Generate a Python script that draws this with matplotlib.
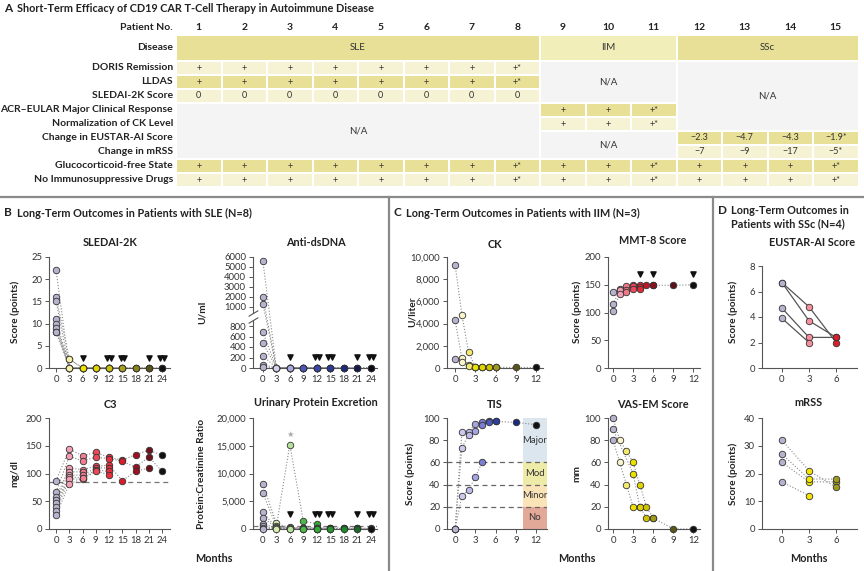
import numpy as np
import matplotlib
matplotlib.use("Agg")
import matplotlib.pyplot as plt
from matplotlib.patches import Rectangle
from collections import Counter

plt.rcParams['font.family'] = ['Lato', 'DejaVu Sans']

n = np.nan

# ---------------- table data (panel A) ----------------
patient_no = [str(i) for i in range(1, 16)]
row_labels = ["Disease", "DORIS Remission", "LLDAS", "SLEDAI-2K Score",
              "ACR\u2013EULAR Major Clinical Response", "Normalization of CK Level",
              "Change in EUSTAR-AI Score", "Change in mRSS",
              "Glucocorticoid-free State", "No Immunosuppressive Drugs"]
diseases = [("SLE", 0, 8), ("IIM", 8, 11), ("SSc", 11, 15)]
doris = ["+"] * 7 + ["+*"]
lldas = ["+"] * 7 + ["+*"]
sledai_score = ["0"] * 8
acr_eular = ["+", "+", "+*"]
ck_normal = ["+", "+", "+*"]
eustar_change = ["\u22122.3", "\u22124.7", "\u22124.3", "\u22121.9*"]
mrss_change = ["\u22127", "\u22129", "\u221217", "\u22125*"]
gc_free = ["+"] * 7 + ["+*"] + ["+", "+", "+*"] + ["+", "+", "+", "+*"]
no_is = ["+"] * 7 + ["+*"] + ["+", "+", "+*"] + ["+", "+", "+", "+*"]

# ---------------- panel B (SLE) ----------------
sle_months = [0, 3, 6, 9, 12, 15, 18, 21, 24]
sle_end = [6, 12, 12, 15, 15, 21, 24, 24]
sledai = [
    [22, 0, 0, 0, 0, 0, 0, 0, 0],
    [16, 2, 0, 0, 0, n, n, n, n],
    [15, 0, 0, 0, 0, 0, n, n, n],
    [11, 0, 0, n, n, n, n, n, n],
    [10, 0, 0, 0, 0, 0, 0, 0, 0],
    [9, 0, 0, 0, 0, 0, 0, 0, n],
    [8, 2, 0, 0, 0, 0, n, n, n],
    [8, 0, 0, 0, 0, n, n, n, n],
]
dsdna = [
    [5600, 5, 5, 5, 5, 5, 5, 5, 5],
    [2000, 5, 5, 5, 5, n, n, n, n],
    [1300, 5, 5, 5, 5, 5, n, n, n],
    [680, 5, 5, n, n, n, n, n, n],
    [470, 5, 5, 5, 5, 5, 5, 5, 5],
    [230, 5, 5, 5, 5, 5, 5, 5, n],
    [60, 5, 5, 5, 5, 5, n, n, n],
    [20, 5, 5, 5, 5, n, n, n, n],
]
c3 = [
    [87, 144, 132, 138, 129, 124, 134, 142, 133],
    [67, 131, 123, 129, 127, 122, 111, 130, 104],
    [57, 110, 107, 113, 115, 87, 104, 110, n],
    [52, 103, 103, n, n, n, n, n, n],
    [46, 97, 97, 110, 110, n, n, n, n],
    [40, 94, 92, 106, 104, n, n, n, n],
    [33, 90, 90, 104, 98, n, n, n, n],
    [25, 81, 91, n, n, n, n, n, n],
]
upcr = [
    [8060, 1000, 200, 200, 200, 200, 200, 150, 100],
    [6450, 480, 15200, 1400, 950, n, n, n, n],
    [3040, 200, 200, 200, 150, 150, n, n, n],
    [1970, 300, 300, n, n, n, n, n, n],
    [900, 200, 150, 150, 100, 100, 100, 100, 80],
    [480, 150, 100, 100, 80, 80, 80, 80, n],
    [180, 100, 80, 80, 80, 80, n, n, n],
    [20, 50, 50, 50, 50, n, n, n, n],
]
c3_normal = 85
upcr_normal = 500
upcr_flag = (6, 15200)

# ---------------- panel C (IIM) ----------------
iim_months = [0, 1, 2, 3, 4, 5, 6, 9, 12]
iim_end = [4, 6, 12]
ck = [
    [9300, 4800, 1400, 100, 50, 50, 50, 50, 50],
    [4300, 900, 300, 80, 50, 50, 50, n, n],
    [800, 500, 200, 50, 50, n, n, n, n],
]
mmt8 = [
    [137, 143, 147, 150, 150, 150, 149, 149, 150],
    [115, 140, 141, 147, 146, n, 149, n, n],
    [103, 133, 137, 143, 142, n, n, n, n],
]
tis = [
    [0, 87, 87, 95, 96, 97, 97, 96, 94],
    [0, 73, 85, 88, 94, 96, 97, n, n],
    [0, 30, 35, 47, 60, n, n, n, n],
]
vas_em = [
    [100, 80, 70, 60, 40, 20, 10, 0, 0],
    [90, n, n, 50, 20, 10, 10, n, n],
    [80, 60, 40, 20, 20, n, n, n, n],
]
tis_bands = [(0, 20, "No"), (20, 40, "Minor"), (40, 60, "Mod"), (60, 100, "Major")]

# ---------------- panel D (SSc) ----------------
ssc_months = [0, 3, 6]
eustar = [
    [4.7, 2.4, 2.4],
    [6.7, 4.8, 2.0],
    [6.7, 3.7, 2.4],
    [3.9, 2.0, n],
]
mrss = [
    [24, 17, 17],
    [27, 18, 18],
    [32, 21, 15],
    [17, 12, n],
]

# ---------------- colours ----------------
LAV = '#B7B2CE'
yellow_seq = [LAV, '#F6F1A6', '#EEE200', '#E0D400', '#C8BE14', '#ABA21C', '#8A831E', '#5A5418', '#111111']
blue_seq = [LAV, '#D2D2EE', '#A8AADC', '#4C57B8', '#3A46A8', '#2C3898', '#1E2A7A', '#141A4A', '#0A0A14']
red_seq = [LAV, '#F4A0B4', '#F27C90', '#EE4858', '#E8303E', '#D81E2A', '#A01020', '#70101A', '#111111']
green_seq = [LAV, '#D6EDB0', '#B5E29A', '#4CB848', '#36A83A', '#24982E', '#1A8A2A', '#1A6A2A', '#111111']
ck_seq = [LAV, '#F8F4C8', '#F2EA70', '#ECE000', '#E0D400', '#CFC300', '#A09A1A', '#5A5618', '#111111']
mmt_seq = [LAV, '#F4A0B4', '#F07888', '#EC4858', '#E02A36', '#C01828', '#8A1020', '#5A1018', '#111111']
tis_seq = [LAV, '#CDC9EE', '#BDBBEA', '#A4A4E0', '#7C7ED0', '#4A58B8', '#2E3E9E', '#1C2A7C', '#111111']
eustar_seq = [LAV, '#F4909E', '#D8202C']
mrss_seq = [LAV, '#F2E600', '#A09A20']
band_colors = {"No": '#E2A898', "Minor": '#FBE3B8', "Mod": '#EEEAA8', "Major": '#DCE6EE'}

DARK = '#E8E096'
LIGHT = '#F6F3D4'
IIMC = '#F2EEB9'
NA = '#F4F4F4'
TXT = '#333333'

W, H = 864, 571
fig = plt.figure(figsize=(W / 100, H / 100), dpi=100)


def ftext(x, y, s, **kw):
    kw.setdefault('va', 'center')
    kw.setdefault('color', '#222222')
    return fig.text(x / W, 1 - y / H, s, **kw)


def px_axes(x0, y0, x1, y1):
    return fig.add_axes([x0 / W, 1 - y1 / H, (x1 - x0) / W, (y1 - y0) / H])


# ---------------- panel A: the table ----------------
tab = fig.add_axes([0, 0, 1, 1])
tab.set_xlim(0, W)
tab.set_ylim(H, 0)
tab.axis('off')

col_x0 = 176
col_w = 45.5
row_top = [36] + [62 + 14 * i for i in range(9)]
row_h = [24] + [12] * 9


def cell(c0, c1, r0, r1, color, text=None, fs=6.5):
    x0 = col_x0 + c0 * col_w + 1
    x1 = col_x0 + c1 * col_w - 1
    y0 = row_top[r0]
    y1 = row_top[r1 - 1] + row_h[r1 - 1]
    tab.add_patch(Rectangle((x0, y0), x1 - x0, y1 - y0, facecolor=color, edgecolor='none'))
    if text is not None:
        tab.text((x0 + x1) / 2, (y0 + y1) / 2, text, ha='center', va='center', fontsize=fs, color=TXT)


ftext(4, 9, "A", fontsize=8.5, fontweight='bold')
ftext(17, 9, "Short-Term Efficacy of CD19 CAR T-Cell Therapy in Autoimmune Disease",
      fontsize=7.8, fontweight='bold')
ftext(173, 27, "Patient No.", ha='right', fontsize=7.5, fontweight='bold')
for i, p in enumerate(patient_no):
    ftext(col_x0 + (i + 0.5) * col_w, 27, p, ha='center', fontsize=7.5, fontweight='bold')
for r, lab in enumerate(row_labels):
    ftext(173, row_top[r] + row_h[r] / 2, lab, ha='right', fontsize=7.5, fontweight='bold')

for name, c0, c1 in diseases:
    cell(c0, c1, 0, 1, IIMC if name == "IIM" else DARK, name, fs=7)

row_vals = [(1, doris, 0, LIGHT), (2, lldas, 0, DARK), (3, sledai_score, 0, LIGHT),
            (4, acr_eular, 8, DARK), (5, ck_normal, 8, LIGHT),
            (6, eustar_change, 11, DARK), (7, mrss_change, 11, LIGHT),
            (8, gc_free, 0, DARK), (9, no_is, 0, LIGHT)]
for r, vals, start, color in row_vals:
    for k, v in enumerate(vals):
        cell(start + k, start + k + 1, r, r + 1, color, v)

cell(8, 11, 1, 4, NA, "N/A", fs=7)
cell(11, 15, 1, 6, NA, "N/A", fs=7)
cell(0, 8, 4, 8, NA, "N/A", fs=7)
cell(8, 11, 6, 8, NA, "N/A", fs=7)

# separators
tab.plot([0, W], [197, 197], color='#8a8a8a', lw=1.6)
tab.plot([389, 389], [197, H], color='#8a8a8a', lw=1.6)
tab.plot([713, 713], [197, H], color='#8a8a8a', lw=1.6)

# panel headers
ftext(4, 213, "B", fontsize=8.5, fontweight='bold')
ftext(17, 213, "Long-Term Outcomes in Patients with SLE (N=8)", fontsize=7.8, fontweight='bold')
ftext(393, 213, "C", fontsize=8.5, fontweight='bold')
ftext(406, 213, "Long-Term Outcomes in Patients with IIM (N=3)", fontsize=7.8, fontweight='bold')
ftext(718, 210, "D", fontsize=8.5, fontweight='bold')
ftext(731, 210, "Long-Term Outcomes in", fontsize=7.8, fontweight='bold')
ftext(731, 224, "Patients with SSc (N=4)", fontsize=7.8, fontweight='bold')

ftext(214, 558, "Months", ha='center', fontsize=7.8, fontweight='bold')
ftext(577, 558, "Months", ha='center', fontsize=7.8, fontweight='bold')
ftext(809, 558, "Months", ha='center', fontsize=7.8, fontweight='bold')


def style(ax, xlim, ylim, xticks, yticks, yticklabels=None):
    ax.set_xlim(xlim)
    ax.set_ylim(ylim)
    ax.set_facecolor('none')
    for s in ['top', 'right']:
        ax.spines[s].set_visible(False)
    for s in ['left', 'bottom']:
        ax.spines[s].set_color('#555555')
        ax.spines[s].set_linewidth(0.8)
    ax.set_xticks(xticks)
    ax.set_yticks(yticks)
    if yticklabels is not None:
        ax.set_yticklabels(yticklabels)
    ax.tick_params(labelsize=6.8, length=3, width=0.7, color='#555555', labelcolor='#333333', pad=2)
    ax.minorticks_off()


def draw(ax, months, patients, colors, ls=':', lc='#8a8a8a', lw=0.8):
    arr = np.array(patients, dtype=float)
    mo = np.array(months, dtype=float)
    for row in arr:
        ok = ~np.isnan(row)
        ax.plot(mo[ok], row[ok], ls=ls, color=lc, lw=lw, zorder=2, clip_on=False)
    for j, m in enumerate(months):
        col = arr[:, j]
        col = col[~np.isnan(col)]
        ax.scatter(np.full(len(col), m), col, s=22, c=colors[j], edgecolors='#333333',
                   linewidths=0.6, zorder=3, clip_on=False)


def draw_ends(ax, ends, yfrac, spread):
    for m, k in Counter(ends).items():
        offs = (np.arange(k) - (k - 1) / 2) * spread
        ax.scatter(m + offs, [yfrac] * k, marker='v', s=14, c='#111111',
                   transform=ax.get_xaxis_transform(), clip_on=False, zorder=4)


def titled(x, y, s):
    ftext(x, y, s, ha='center', fontsize=7.8, fontweight='bold')


def ylab(x, y, s):
    ftext(x, y, s, ha='center', rotation=90, fontsize=7.3, fontweight='bold')


sle_ticks = sle_months
iim_ticks = [0, 3, 6, 9, 12]

# SLEDAI-2K
ax = px_axes(49, 257, 170, 368)
style(ax, (-1.6, 25.8), (0, 25), sle_ticks, [0, 5, 10, 15, 20, 25])
draw(ax, sle_months, sledai, yellow_seq)
draw_ends(ax, sle_end, 0.09, 0.8)
titled(110, 242, "SLEDAI-2K")
ylab(15, 312, "Score (points)")

# Anti-dsDNA with broken axis
def dna_fwd(v):
    v = np.asarray(v, dtype=float)
    return np.where(v <= 800, v / 800 * 42,
                    np.where(v <= 1000, 42 + (v - 800) / 200 * 19, 61 + (v - 1000) / 5000 * 50))


def dna_inv(u):
    u = np.asarray(u, dtype=float)
    return np.where(u <= 42, u / 42 * 800,
                    np.where(u <= 61, 800 + (u - 42) / 19 * 200, 1000 + (u - 61) / 50 * 5000))


ax = px_axes(253, 257, 377, 368)
ax.set_yscale('function', functions=(dna_fwd, dna_inv))
style(ax, (-2.2, 25.4), (0, 6000), sle_ticks,
      [0, 200, 400, 600, 800, 1000, 2000, 3000, 4000, 5000, 6000])
ax.spines['left'].set_bounds(0, 860)
ax.plot([0, 0], [940, 6000], color='#555555', lw=0.8, transform=ax.get_yaxis_transform(), clip_on=False)
for yb in [860, 940]:
    ax.plot([0], [yb], marker=[(-1, -0.6), (1, 0.6)], markersize=7, mec='#555555', mew=0.8,
            transform=ax.get_yaxis_transform(), clip_on=False)
draw(ax, sle_months, dsdna, blue_seq)
draw_ends(ax, sle_end, 0.1, 0.8)
titled(316, 242, "Anti-dsDNA")
ylab(202, 312, "U/ml")

# C3
ax = px_axes(49, 418, 170, 529)
style(ax, (-1.6, 25.8), (0, 200), sle_ticks, [0, 50, 100, 150, 200])
ax.axhline(c3_normal, ls='--', color='#777777', lw=0.9, dashes=(4, 3), zorder=1)
draw(ax, sle_months, c3, red_seq)
titled(110, 405, "C3")
ylab(15, 474, "mg/dl")

# Urinary protein
ax = px_axes(253, 418, 377, 529)
style(ax, (-2.2, 25.4), (0, 20000), sle_ticks, [0, 5000, 10000, 15000, 20000],
      ["0", "5,000", "10,000", "15,000", "20,000"])
ax.axhline(upcr_normal, ls='--', color='#777777', lw=0.9, dashes=(4, 3), zorder=1)
draw(ax, sle_months, upcr, green_seq)
draw_ends(ax, sle_end, 0.135, 0.8)
ax.annotate("\u2605", xy=upcr_flag, xytext=(0, 7), textcoords='offset points', ha='center',
            va='center', fontsize=6, color='#aaaaaa', family='DejaVu Sans')
titled(316, 403, "Urinary Protein Excretion")
ylab(202, 474, "Protein:Creatinine Ratio")

# CK
ax = px_axes(447, 257, 543, 368)
style(ax, (-1.2, 13.0), (0, 10000), iim_ticks, [0, 2000, 4000, 6000, 8000, 10000],
      ["0", "2,000", "4,000", "6,000", "8,000", "10,000"])
draw(ax, iim_months, ck, ck_seq)
titled(495, 245, "CK")
ylab(412, 312, "U/liter")

# MMT-8
ax = px_axes(608, 257, 700, 368)
style(ax, (-0.75, 13.0), (0, 200), iim_ticks, [0, 50, 100, 150, 200])
draw(ax, iim_months, mmt8, mmt_seq)
draw_ends(ax, iim_end, 0.85, 0.6)
titled(653, 241, "MMT-8 Score")
ylab(577, 312, "Score (points)")

# TIS
ax = px_axes(447, 418, 547, 529)
style(ax, (-1.2, 13.6), (0, 100), iim_ticks, [0, 20, 40, 60, 80, 100])
for lo, hi, name in tis_bands:
    ax.axhspan(lo, hi, xmin=(10 - (-1.2)) / 14.8, xmax=1, facecolor=band_colors[name],
               edgecolor='none', zorder=0)
    ax.text(11.8, (lo + hi) / 2, name, ha='center', va='center', fontsize=6.8, color='#333333', zorder=1)
for lo, hi, name in tis_bands[:-1]:
    ax.axhline(hi, ls='--', color='#666666', lw=0.9, dashes=(4, 3), zorder=1)
draw(ax, iim_months, tis, tis_seq)
titled(495, 404, "TIS")
ylab(410, 474, "Score (points)")

# VAS-EM
ax = px_axes(608, 418, 700, 529)
style(ax, (-0.75, 13.0), (0, 100), iim_ticks, [0, 20, 40, 60, 80, 100])
draw(ax, iim_months, vas_em, ck_seq)
titled(653, 404, "VAS-EM Score")
ylab(577, 474, "mm")

# EUSTAR-AI
ax = px_axes(762, 266, 857, 368)
style(ax, (-2.2, 8.3), (0, 8), ssc_months, [0, 2, 4, 6, 8])
draw(ax, ssc_months, eustar, eustar_seq, ls='-', lc='#555555', lw=0.9)
titled(812, 242, "EUSTAR-AI Score")
ylab(733, 312, "Score (points)")

# mRSS
ax = px_axes(762, 418, 857, 529)
style(ax, (-2.2, 8.3), (0, 40), ssc_months, [0, 10, 20, 30, 40])
draw(ax, ssc_months, mrss, mrss_seq)
titled(808, 403, "mRSS")
ylab(733, 474, "Score (points)")

fig.savefig("out.png", dpi=100)
